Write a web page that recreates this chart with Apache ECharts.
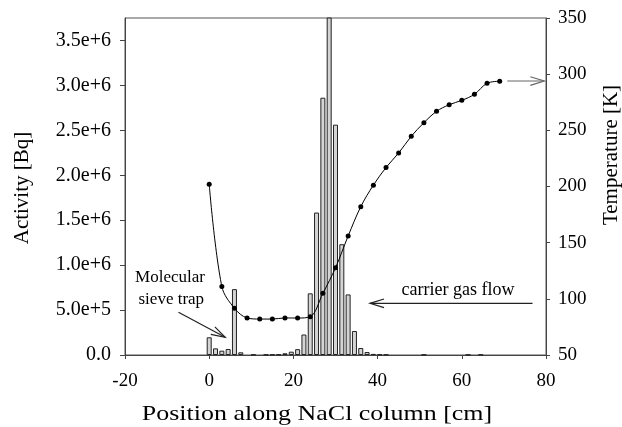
<!DOCTYPE html>
<html>
<head>
<meta charset="utf-8">
<script src="https://cdn.jsdelivr.net/npm/echarts@6/dist/echarts.min.js"></script>
<style>html,body{margin:0;padding:0;background:#fff;}#c{width:622px;height:427px;}</style>
</head>
<body>
<div id="c"></div>
<script>
// Activity bars (position in cm, activity in Bq)
const barPositions = [0, 1.5, 3, 4.5, 6, 7.5, 10.5, 13.5, 15, 16.5, 18, 19.5, 21, 22.5, 24, 25.5, 27, 28.5, 30, 31.5, 33, 34.5, 36, 37.5, 39, 40.5, 42, 51, 61.5, 64.5];
const barActivity  = [1.97e5, 7.4e4, 4.8e4, 6.7e4, 7.33e5, 3.0e4, 4e3, 4e3, 4e3, 6e3, 1.9e4, 3.7e4, 6.5e4, 2.28e5, 6.86e5, 1.585e6, 2.863e6, 3.9e6, 2.563e6, 1.233e6, 6.74e5, 2.67e5, 7.8e4, 3.3e4, 1.2e4, 5e3, 3e3, 3e3, 3e3, 3e3];

// Temperature curve (position in cm, temperature in K)
const tempPositions = [0, 3, 6, 9, 12, 15, 18, 21, 24, 27, 30, 33, 36, 39, 42, 45, 48, 51, 54, 57, 60, 63, 66, 69];
const tempValues    = [202, 111, 91.6, 83.0, 82.0, 82.0, 83.0, 82.9, 84.1, 104.9, 127.6, 155.9, 182.0, 201.2, 216.9, 229.8, 244.7, 256.8, 266.9, 272.8, 276.7, 282.1, 291.9, 293.7];

// Axis settings
const xTicks = {min: -20, max: 80, interval: 20};
const yLeftTicks = {min: 0, max: 3.75e6, interval: 5e5};
const yRightTicks = {min: 50, max: 350, interval: 50};

// Texts
const xTitle = 'Position along NaCl column [cm]';
const yLeftTitle = 'Activity [Bq]';
const yRightTitle = 'Temperature [K]';
const annotSieve = ['Molecular', 'sieve trap'];
const annotFlow = 'carrier gas flow';

const FONT = '"Liberation Serif", "Times New Roman", serif';

function fmtSci(v) {
  if (v === 0) return '0.0';
  if (Math.abs(v % 5e5) > 1) return '';
  const e = Math.floor(Math.log10(v) + 1e-9);
  const m = v / Math.pow(10, e);
  return m.toFixed(1) + 'e+' + e;
}

const chart = echarts.init(document.getElementById('c'), null, {renderer: 'canvas'});
const axisColor = '#444';
const labelStyle = {color: '#000', fontFamily: FONT, fontSize: 19};

chart.setOption({
  animation: false,
  backgroundColor: '#fff',
  grid: {left: 125, right: 76, top: 18, bottom: 72, show: true, borderColor: '#555', borderWidth: 1},
  xAxis: {
    type: 'value', min: xTicks.min, max: xTicks.max, interval: xTicks.interval,
    axisLine: {show: true, onZero: false, lineStyle: {color: axisColor}},
    axisTick: {show: true, inside: false, length: 4, lineStyle: {color: axisColor}},
    splitLine: {show: false},
    axisLabel: Object.assign({}, labelStyle, {margin: 17})
  },
  yAxis: [{
    type: 'value', min: yLeftTicks.min, max: yLeftTicks.max, interval: yLeftTicks.interval,
    position: 'left',
    axisLine: {show: true, onZero: false, lineStyle: {color: axisColor}},
    axisTick: {show: true, length: 5, lineStyle: {color: axisColor}},
    splitLine: {show: false},
    axisLabel: Object.assign({}, labelStyle, {margin: 14, fontSize: 20, formatter: fmtSci, showMaxLabel: false})
  }, {
    type: 'value', min: yRightTicks.min, max: yRightTicks.max, interval: yRightTicks.interval,
    position: 'right',
    axisLine: {show: true, onZero: false, lineStyle: {color: axisColor}},
    axisTick: {show: true, length: 4, lineStyle: {color: axisColor}},
    splitLine: {show: false},
    axisLabel: Object.assign({}, labelStyle, {margin: 12})
  }],
  series: [{
    type: 'bar',
    xAxisIndex: 0, yAxisIndex: 0,
    data: barPositions.map((p, i) => [p, barActivity[i]]),
    barWidth: 5,
    clip: true,
    itemStyle: {color: '#d4d4d4', borderColor: '#222', borderWidth: 1},
    z: 2
  }, {
    type: 'line',
    xAxisIndex: 0, yAxisIndex: 1,
    data: tempPositions.map((p, i) => [p, tempValues[i]]),
    smooth: 0.35,
    symbol: 'circle', symbolSize: 5,
    itemStyle: {color: '#000'},
    lineStyle: {color: '#000', width: 1},
    z: 3
  }]
});

// Annotations positioned in data coordinates (x in cm, y in K)
function px(x, t) { return chart.convertToPixel({xAxisIndex: 0, yAxisIndex: 1}, [x, t]); }
function arrow(from, to, color) {
  const a = px(from[0], from[1]), b = px(to[0], to[1]);
  const dx = b[0] - a[0], dy = b[1] - a[1];
  const L = Math.sqrt(dx * dx + dy * dy);
  const ux = dx / L, uy = dy / L;
  const len = 14, half = 4.3;
  const bx = b[0] - ux * len, by = b[1] - uy * len;
  const nx = -uy, ny = ux;
  return [
    {type: 'line', shape: {x1: a[0], y1: a[1], x2: b[0], y2: b[1]}, style: {stroke: color, lineWidth: 1.2}, z: 10},
    {type: 'polyline', shape: {points: [[bx + nx * half, by + ny * half], b, [bx - nx * half, by - ny * half]]}, style: {stroke: color, lineWidth: 1.2, fill: null}, z: 10}
  ];
}
function text(str, x, y, size, rot, sx) {
  return {type: 'text', x: x, y: y, rotation: rot || 0, scaleX: sx || 1, z: 10,
    style: {text: str, font: size + 'px ' + FONT, fill: '#000', textAlign: 'center', textVerticalAlign: 'middle', align: 'center', verticalAlign: 'middle'}};
}

const g = [];
const s1 = px(-9.3, 119.4), s2 = px(-9.0, 99);
g.push(text(annotSieve[0], s1[0], s1[1], 17));
g.push(text(annotSieve[1], s2[0], s2[1], 17));
g.push(...arrow([-7.3, 88], [3.8, 65.8], '#222'));
const f = px(59.1, 108);
g.push(text(annotFlow, f[0], f[1], 18));
g.push(...arrow([76.8, 96], [38.2, 96], '#222'));
g.push(...arrow([70.8, 293.9], [79.6, 293.9], '#666'));
// Axis titles
g.push(text(xTitle, 317, 414, 22, 0, 1.18));
g.push(text(yLeftTitle, 22, 188, 21, Math.PI / 2));
g.push(text(yRightTitle, 611, 155, 21, Math.PI / 2));
chart.setOption({graphic: g});
</script>
</body>
</html>
